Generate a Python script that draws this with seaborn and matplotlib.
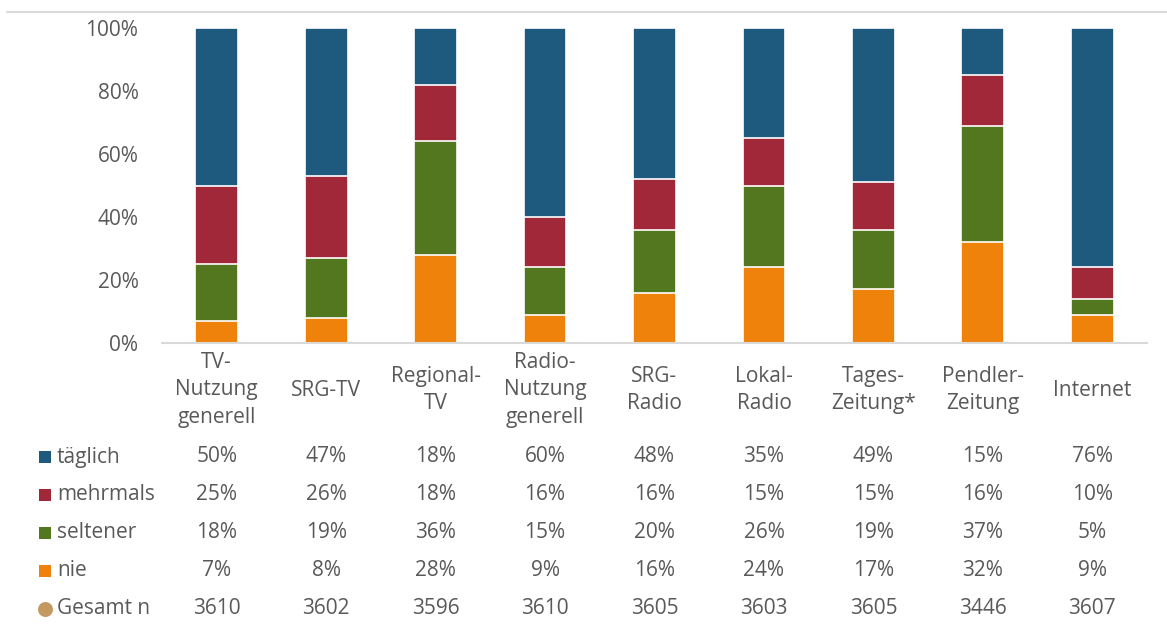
import matplotlib
matplotlib.use("Agg")
import matplotlib.pyplot as plt
import matplotlib.transforms as mtransforms
from matplotlib.patches import Rectangle
from matplotlib.lines import Line2D
import seaborn as sns
import numpy as np

categories = ["TV-\nNutzung\ngenerell", "SRG-TV", "Regional-\nTV", "Radio-\nNutzung\ngenerell",
              "SRG-\nRadio", "Lokal-\nRadio", "Tages-\nZeitung*", "Pendler-\nZeitung", "Internet"]
series_names = ["täglich", "mehrmals", "seltener", "nie"]
taeglich = [50, 47, 18, 60, 48, 35, 49, 15, 76]
mehrmals = [25, 26, 18, 16, 16, 15, 15, 16, 10]
seltener = [18, 19, 36, 15, 20, 26, 19, 37, 5]
nie = [7, 8, 28, 9, 16, 24, 17, 32, 9]
gesamt_n = [3610, 3602, 3596, 3610, 3605, 3603, 3605, 3446, 3607]
y_ticks = [0, 20, 40, 60, 80, 100]

colors = {"täglich": "#1E5A7D", "mehrmals": "#A12838", "seltener": "#52771E", "nie": "#EE820A"}
circle_color = "#C49A62"
text_color = "#595959"
grid_grey = "#D9D9D9"
FS = 15

sns.set_style("white")
plt.rcParams["font.family"] = ["Open Sans", "DejaVu Sans"]

W, H = 1167, 625
fig = plt.figure(figsize=(W / 100, H / 100), dpi=100)
ax = fig.add_axes([162 / W, 1 - 343 / H, (1147 - 162) / W, (343 - 28) / H])

series = {"täglich": taeglich, "mehrmals": mehrmals, "seltener": seltener, "nie": nie}
order_bottom_up = ["nie", "seltener", "mehrmals", "täglich"]
cum = np.zeros(len(categories))
cums = {}
for name in order_bottom_up:
    cum = cum + np.array(series[name], dtype=float)
    cums[name] = cum.copy()

xlabels = [c.replace("\n", " ") for c in categories]
for name in reversed(order_bottom_up):
    sns.barplot(x=xlabels, y=cums[name], color=colors[name], width=0.39,
                edgecolor="white", linewidth=1.2, saturation=1, ax=ax, order=xlabels)

ax.set_ylim(0, 100)
ax.set_xlim(-0.5, len(categories) - 0.5)
ax.set_yticks(y_ticks)
ax.set_yticklabels([f"{v}%" for v in y_ticks], fontsize=FS, color=text_color)
ax.tick_params(axis="y", length=0, pad=17)
ax.set_xticks(range(len(categories)))
ax.set_xticklabels([])
ax.tick_params(axis="x", length=0)
ax.set_xlabel("")
ax.set_ylabel("")
for s in ["top", "right", "left"]:
    ax.spines[s].set_visible(False)
ax.spines["bottom"].set_color(grid_grey)
ax.spines["bottom"].set_linewidth(1.5)

trans = mtransforms.blended_transform_factory(ax.transData, fig.transFigure)
for i, c in enumerate(categories):
    ax.text(i, 1 - 390 / H, c, transform=trans, ha="center", va="center",
            fontsize=FS, color=text_color, linespacing=1.4)

# data table
row_y = [457, 495, 533, 571, 609]
for r, name in enumerate(series_names):
    yy = 1 - row_y[r] / H
    fig.patches.append(Rectangle((39 / W, yy - 6 / H), 12 / W, 12 / H, transform=fig.transFigure,
                                 facecolor=colors[name], edgecolor="none"))
    fig.text(57 / W, yy, name, fontsize=FS, color=text_color, va="center", ha="left")
    for i, v in enumerate(series[name]):
        ax.text(i, yy, f"{v}%", transform=trans, ha="center", va="center", fontsize=FS, color=text_color)

yy = 1 - row_y[4] / H
fig.add_artist(Line2D([45 / W], [yy], transform=fig.transFigure, marker="o", markersize=10.8,
                      markerfacecolor=circle_color, markeredgecolor="none", linestyle="none"))
fig.text(57 / W, yy, "Gesamt n", fontsize=FS, color=text_color, va="center", ha="left")
for i, v in enumerate(gesamt_n):
    ax.text(i, yy, f"{v}", transform=trans, ha="center", va="center", fontsize=FS, color=text_color)

fig.add_artist(Line2D([7 / W, 1], [1 - 12 / H, 1 - 12 / H], transform=fig.transFigure,
                      color=grid_grey, linewidth=1.5))

fig.savefig("out.png", dpi=100)
